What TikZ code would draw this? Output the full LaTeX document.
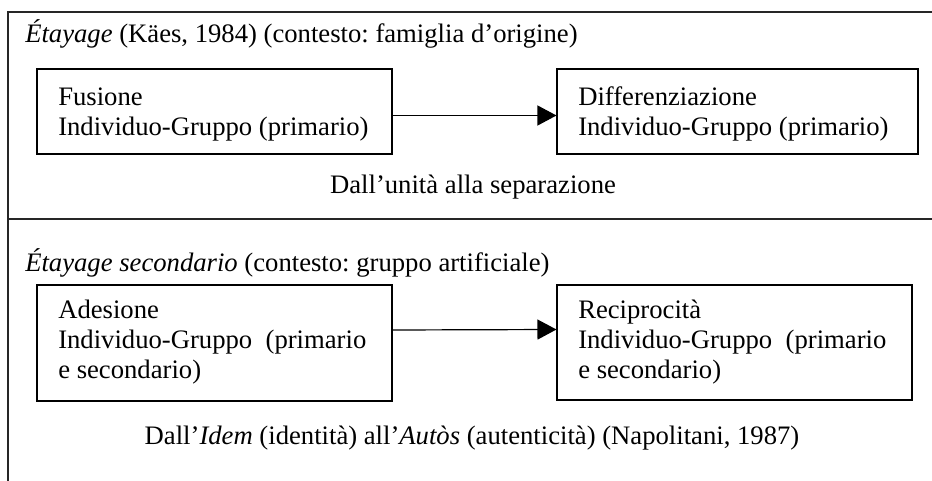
\documentclass[tikz,border=0pt]{standalone}
\usepackage{fontspec}
\setmainfont{Liberation Serif}
\usetikzlibrary{arrows.meta}
\begin{document}
\frenchspacing
\begin{tikzpicture}[x=0.75pt,y=-0.75pt,
  txt/.style={anchor=base west,inner sep=0pt,font=\fontsize{20}{24}\selectfont},
  ctxt/.style={txt,anchor=base},
  box/.style={draw=black,line width=0.8pt,rectangle,inner sep=0pt},
  frame/.style={draw=black!85,line width=1.1pt},
  arr/.style={draw=black,line width=0.9pt,-{Triangle[length=14.25pt,width=15pt]}}]
\useasboundingbox (0,0) rectangle (932,481);
% frame
\coordinate (tl) at (8,12);
\coordinate (tr) at (932,12);
\coordinate (bl) at (8,481);
\coordinate (ml) at (8,219);
\coordinate (mr) at (932,219);
\draw[frame] (bl) -- (tl) -- (tr);
\draw[frame] (ml) -- (mr);
% top section
\node[txt] (h1) at (25,43) {\textit{Étayage} (Käes, 1984) (contesto: famiglia d’origine)};
\node[box,minimum width=266.25pt,minimum height=63.75pt] (fus) at (214.5,111.5) {};
\node[box,minimum width=270.75pt,minimum height=63.75pt] (dif) at (737.5,111.5) {};
\node[txt] (fus1) at (58,106) {Fusione};
\node[txt] (fus2) at (58,136) {Individuo-Gruppo (primario)};
\node[txt] (dif1) at (578,106) {Differenziazione};
\node[txt] (dif2) at (578,136) {Individuo-Gruppo (primario)};
\draw[arr] ([yshift=-3pt]fus.east) -- ([yshift=-3pt]dif.west);
\node[ctxt] (m1) at (473,194) {Dall’unità alla separazione};
% bottom section
\node[txt] (h2) at (25,272) {\textit{Étayage secondario} (contesto: gruppo artificiale)};
\node[box,minimum width=266.25pt,minimum height=87pt] (ade) at (214.5,343) {};
\node[box,minimum width=266.25pt,minimum height=86.25pt] (rec) at (734.5,342.5) {};
\node[txt] (ade1) at (58,318) {Adesione};
\node[txt] (ade2) at (58,348) {Individuo-Gruppo\ \ (primario};
\node[txt] (ade3) at (58,378) {e secondario)};
\node[txt] (rec1) at (578,318) {Reciprocità};
\node[txt] (rec2) at (578,348) {Individuo-Gruppo\ \ (primario};
\node[txt] (rec3) at (578,378) {e secondario)};
\draw[arr] ([yshift=9.75pt]ade.east) -- ([yshift=9.75pt]rec.west);
\node[ctxt] (m2) at (472,444) {Dall’\textit{Idem} (identità) all’\textit{Autòs} (autenticità) (Napolitani, 1987)};
\end{tikzpicture}
\end{document}
